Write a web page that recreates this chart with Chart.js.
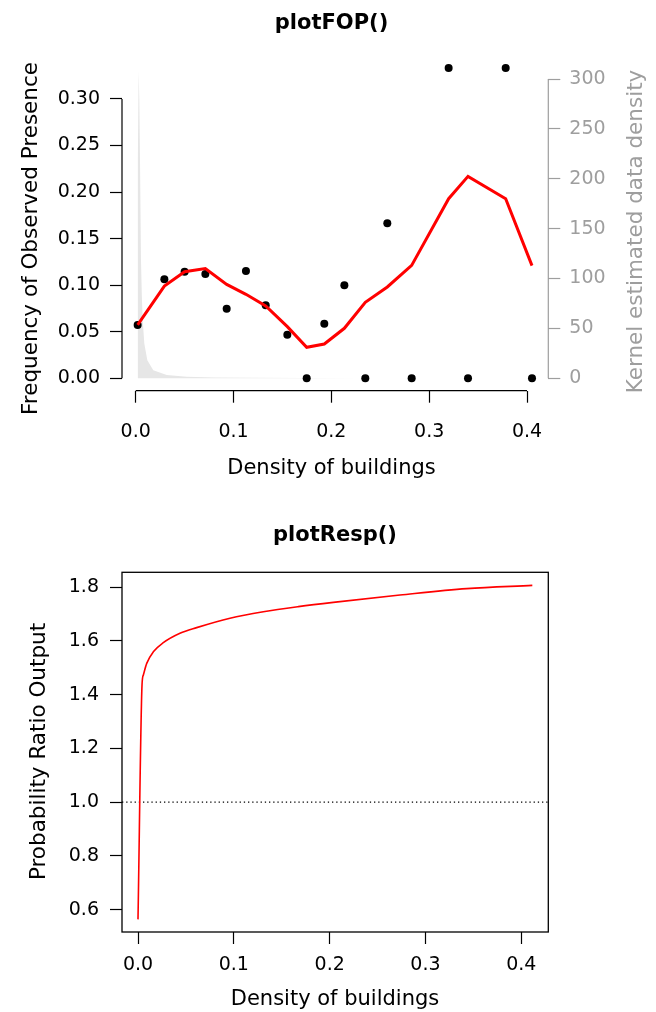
<!DOCTYPE html>
<html>
<head>
<meta charset="utf-8">
<script src="https://cdn.jsdelivr.net/npm/chart.js@4.4.1/dist/chart.umd.min.js"></script>
<style>
  html, body { margin: 0; padding: 0; background: #fff; }
  #wrap { position: relative; width: 656px; height: 1012px; background: #fff; overflow: hidden; }
  canvas { position: absolute; left: 0; }
  #fop { top: 0; }
  #resp { top: 490px; }
</style>
</head>
<body>
<div id="wrap">
  <canvas id="fop" width="656" height="490"></canvas>
  <canvas id="resp" width="656" height="522"></canvas>
</div>
<script>
var binX = [0.0020, 0.0293, 0.0500, 0.0712, 0.0930, 0.1127, 0.1329, 0.1550, 0.1748, 0.1928, 0.2133, 0.2347, 0.2572, 0.2821, 0.3199, 0.3397, 0.3782, 0.4051];
var fopObserved = [0.0573, 0.1063, 0.1145, 0.1120, 0.0748, 0.1153, 0.0784, 0.0468, 0, 0.0587, 0.0999, 0, 0.1665, 0, 0.3333, 0, 0.3333, 0];
var fopSmooth = [0.0573, 0.0991, 0.1145, 0.1178, 0.1009, 0.0902, 0.0777, 0.0555, 0.0333, 0.0368, 0.0537, 0.0816, 0.0981, 0.1213, 0.1929, 0.2169, 0.1929, 0.1210];

// densita' kernel (asse destro)
var densX = [0.0015, 0.0022, 0.0030, 0.0037, 0.0044, 0.0054, 0.0063, 0.0072, 0.0088, 0.0119, 0.0180, 0.0317, 0.052, 0.080, 0.120, 0.170, 0.230, 0.320, 0.405];
var densY = [0, 220, 308, 280, 219, 119, 82, 58, 35, 18, 8, 3.3, 1.6, 0.9, 0.6, 0.3, 0.1, 0.05, 0];

var fopXTicks = [0, 0.1, 0.2, 0.3, 0.4];
var fopYTicks = [0, 0.05, 0.10, 0.15, 0.20, 0.25, 0.30];
var densTicks = [0, 50, 100, 150, 200, 250, 300];

// curva di risposta
var respX = [0.000, 0.0042, 0.0056, 0.0091, 0.016, 0.0264, 0.0438, 0.0612, 0.096, 0.1308, 0.1673, 0.2038, 0.2734, 0.343, 0.4115];
var respY = [0.564, 1.436, 1.473, 1.516, 1.559, 1.593, 1.628, 1.649, 1.684, 1.708, 1.727, 1.743, 1.770, 1.794, 1.806];
var respXTicks = [0, 0.1, 0.2, 0.3, 0.4];
var respYTicks = [0.6, 0.8, 1.0, 1.2, 1.4, 1.6, 1.8];
var refLevel = 1;

var FONT = 'DejaVu Sans';
var GRAY = '#9e9e9e';
var tickFont = { family: FONT, size: 19, lineHeight: 1 };

function toPoints(xs, ys) {
  var out = [];
  for (var i = 0; i < xs.length; i++) {
    out.push({ x: xs[i], y: ys[i] });
  }
  return out;
}

function line(ctx, x1, y1, x2, y2) {
  ctx.beginPath();
  ctx.moveTo(x1, y1);
  ctx.lineTo(x2, y2);
  ctx.stroke();
}

function text(ctx, str, x, y, font, color, rot) {
  ctx.save();
  ctx.translate(x, y);
  if (rot) ctx.rotate(rot);
  ctx.font = font;
  ctx.fillStyle = color;
  ctx.textAlign = 'center';
  ctx.textBaseline = 'alphabetic';
  ctx.fillText(str, 0, 0);
  ctx.restore();
}

// asse in stile R: solo trattini esterni, niente griglia
function rAxis(ticks, color, fmt, width, pad) {
  return {
    grid: { drawOnChartArea: false, drawTicks: true, tickLength: 12, tickWidth: 1.2, tickColor: color },
    border: { display: false },
    ticks: {
      font: tickFont, color: color, padding: pad, maxRotation: 0, autoSkip: false,
      callback: function(v) { return fmt(v); }
    },
    afterBuildTicks: function(s) {
      s.ticks = ticks.map(function(v) { return { value: v }; });
    },
    afterFit: function(s) {
      if (s.isHorizontal()) s.height = width; else s.width = width;
      s.paddingTop = 0; s.paddingBottom = 0; s.paddingLeft = 0; s.paddingRight = 0;
    }
  };
}

// grafico superiore: plotFOP()
var fopDecor = {
  id: 'fopDecor',
  afterDraw: function(chart) {
    var ctx = chart.ctx, a = chart.chartArea, s = chart.scales;
    ctx.save();
    ctx.lineWidth = 1.2;
    ctx.strokeStyle = '#000';
    line(ctx, s.x.getPixelForValue(fopXTicks[0]), a.bottom, s.x.getPixelForValue(fopXTicks[fopXTicks.length - 1]), a.bottom);
    line(ctx, a.left, s.y.getPixelForValue(fopYTicks[0]), a.left, s.y.getPixelForValue(fopYTicks[fopYTicks.length - 1]));
    ctx.strokeStyle = GRAY;
    line(ctx, a.right, s.y2.getPixelForValue(densTicks[0]), a.right, s.y2.getPixelForValue(densTicks[densTicks.length - 1]));
    ctx.restore();

    text(ctx, 'plotFOP()', 331.5, 28.5, 'bold 21px "' + FONT + '"', '#000');
    text(ctx, 'Density of buildings', 331.5, 474, '21px "' + FONT + '"', '#000');
    text(ctx, 'Frequency of Observed Presence', 36.5, 238.5, '21.5px "' + FONT + '"', '#000', -Math.PI / 2);
    text(ctx, 'Kernel estimated data density', 641.5, 231.5, '21.5px "' + FONT + '"', GRAY, -Math.PI / 2);
  }
};

var fopX = rAxis(fopXTicks, '#000', function(v) { return v.toFixed(1); }, 99.3, 19.5);
fopX.type = 'linear'; fopX.min = -0.0140; fopX.max = 0.42177;
var fopY = rAxis(fopYTicks, '#000', function(v) { return v.toFixed(2); }, 122, 10);
fopY.type = 'linear'; fopY.position = 'left'; fopY.min = -0.01332; fopY.max = 0.34672;
var fopY2 = rAxis(densTicks, GRAY, function(v) { return String(v); }, 107.7, 9);
fopY2.type = 'linear'; fopY2.position = 'right'; fopY2.min = -12.43; fopY2.max = 323.56;

new Chart(document.getElementById('fop'), {
  type: 'line',
  data: {
    datasets: [{
      label: 'smooth',
      data: toPoints(binX, fopSmooth),
      borderColor: '#ff0000', borderWidth: 3, pointRadius: 0, tension: 0,
      yAxisID: 'y', order: 0
    }, {
      label: 'observed',
      data: toPoints(binX, fopObserved),
      showLine: false, pointRadius: 4, pointBorderWidth: 0,
      pointBackgroundColor: '#000', borderColor: '#000',
      yAxisID: 'y', order: 1
    }, {
      label: 'density',
      data: toPoints(densX, densY),
      borderWidth: 0, pointRadius: 0, tension: 0,
      backgroundColor: '#e6e6e6', fill: 'origin',
      yAxisID: 'y2', order: 2
    }]
  },
  options: {
    responsive: false, animation: false, events: [],
    layout: { padding: { top: 55.5, left: 0, right: 0, bottom: 0 } },
    plugins: { legend: { display: false }, tooltip: { enabled: false } },
    scales: { x: fopX, y: fopY, y2: fopY2 }
  },
  plugins: [fopDecor]
});

// grafico inferiore: plotResp()
var respDecor = {
  id: 'respDecor',
  beforeDatasetsDraw: function(chart) {
    var ctx = chart.ctx, a = chart.chartArea, s = chart.scales;
    var yRef = s.y.getPixelForValue(refLevel);
    ctx.save();
    ctx.lineWidth = 1.2;
    ctx.strokeStyle = '#000';
    ctx.setLineDash([1.3, 2.9]);
    line(ctx, a.left, yRef, a.right, yRef);
    ctx.restore();
  },
  afterDraw: function(chart) {
    var ctx = chart.ctx, a = chart.chartArea;
    ctx.save();
    ctx.lineWidth = 1.3;
    ctx.strokeStyle = '#000';
    ctx.strokeRect(a.left, a.top, a.right - a.left, a.bottom - a.top);
    ctx.restore();

    text(ctx, 'plotResp()', 335, 51, 'bold 21px "' + FONT + '"', '#000');
    text(ctx, 'Density of buildings', 335, 515, '21px "' + FONT + '"', '#000');
    text(ctx, 'Probability Ratio Output', 44.5, 261.5, '21.5px "' + FONT + '"', '#000', -Math.PI / 2);
  }
};

var respXAxis = rAxis(respXTicks, '#000', function(v) { return v.toFixed(1); }, 80, 11.5);
respXAxis.type = 'linear'; respXAxis.min = -0.0167; respXAxis.max = 0.42818;
var respYAxis = rAxis(respYTicks, '#000', function(v) { return v.toFixed(1); }, 122, 11);
respYAxis.type = 'linear'; respYAxis.position = 'left'; respYAxis.min = 0.5171; respYAxis.max = 1.8547;

new Chart(document.getElementById('resp'), {
  type: 'line',
  data: {
    datasets: [{
      label: 'response',
      data: toPoints(respX, respY),
      borderColor: '#ff0000', borderWidth: 1.6, pointRadius: 0,
      cubicInterpolationMode: 'monotone'
    }]
  },
  options: {
    responsive: false, animation: false, events: [],
    layout: { padding: { top: 82.3, left: 0, right: 107.7, bottom: 0 } },
    plugins: { legend: { display: false }, tooltip: { enabled: false } },
    scales: { x: respXAxis, y: respYAxis }
  },
  plugins: [respDecor]
});
</script>
</body>
</html>
